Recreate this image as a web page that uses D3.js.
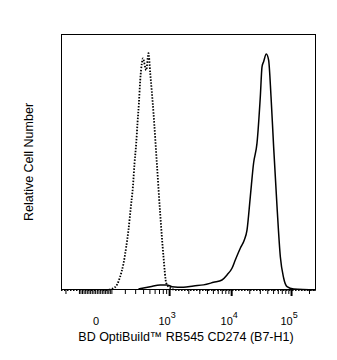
<!DOCTYPE html>
<html>
<head>
<meta charset="utf-8">
<script src="https://cdn.jsdelivr.net/npm/d3@7"></script>
<style>
  html, body { margin: 0; padding: 0; background: #fff; }
  svg { display: block; font-family: "Liberation Sans", Arial, sans-serif; }
</style>
</head>
<body>
<svg id="chart" width="337" height="360"></svg>
<script>
// Fluorescence intensity (logicle-scaled axis) and relative cell counts (% of max)
const isoIntensity = [-240, 60, 114, 138, 162, 189, 212, 232, 255, 276, 293, 312, 327, 344, 361, 383, 397, 447, 484, 514, 577, 650, 730, 820, 903, 1040, 1300, 262144];
const isoCount     = [0, 0, 0.7, 2.0, 5.2, 10.4, 16.9, 23.4, 32.5, 40.4, 49.5, 57.3, 65.1, 72.9, 82.0, 88.6, 90.5, 85.9, 92.5, 84.8, 69.1, 49.2, 29.7, 12.9, 2.7, 0.8, 0, 0];

const stainIntensity = [339, 514, 730, 925, 1106, 1681, 2426, 3520, 5126, 7048, 8526, 10317, 11703, 14172, 16528, 18329, 20803, 23620, 26918, 30571, 32644, 34722, 38515, 42096, 46190, 51049, 58226, 66126, 75103, 85671, 110550, 262144];
const stainCount     = [0.4, 1.3, 2.0, 2.0, 1.3, 1.1, 1.6, 2.0, 3.0, 3.9, 5.9, 8.5, 11.7, 16.3, 19.5, 23.4, 36.4, 49.6, 57.4, 75.5, 87.2, 89.2, 92.2, 89.8, 75.5, 56.0, 32.5, 13.0, 4.7, 1.3, 0.4, 0];

const majorTicks = [1e3, 1e4, 1e5];
const minorTicks = [-200, -100, -90, -80, -70, -60, -50, -40, -30, -20, -10, 0,
  10, 20, 30, 40, 50, 60, 70, 80, 90, 100, 200, 300, 400, 500, 600, 700, 800, 900,
  2000, 3000, 4000, 5000, 6000, 7000, 8000, 9000,
  20000, 30000, 40000, 50000, 60000, 70000, 80000, 90000, 200000];
const tickLabels = [
  { value: 0, base: "0", exp: "" },
  { value: 1e3, base: "10", exp: "3" },
  { value: 1e4, base: "10", exp: "4" },
  { value: 1e5, base: "10", exp: "5" }
];
const xTitle = "BD OptiBuild\u2122 RB545 CD274 (B7-H1)";
const yTitle = "Relative Cell Number";

// Biexponential display transform: intensity -> display decades
const A = 51.3, P = 2;
function fromDecades(u) {
  const s = Math.sign(u), a = Math.abs(u);
  return s * A * (Math.pow(10, a) - P * P * Math.pow(10, -a / P) + P * P - 1);
}
function toDecades(v) {
  let lo = -6, hi = 6;
  for (let i = 0; i < 80; i++) {
    const mid = (lo + hi) / 2;
    if (fromDecades(mid) < v) lo = mid; else hi = mid;
  }
  return (lo + hi) / 2;
}

const margin = { left: 61, right: 21, top: 34, bottom: 70 };
const W = 337, H = 360;
const svg = d3.select("#chart");

const x = d3.scaleLinear()
  .domain([toDecades(-240), toDecades(262144)])
  .range([margin.left, W - margin.right]);
const y = d3.scaleLinear().domain([0, 100]).range([H - margin.bottom, margin.top]);

const line = d3.line()
  .x(d => x(toDecades(d[0])))
  .y(d => y(d[1]))
  .curve(d3.curveMonotoneX);

const plot = svg.append("g");

// control (dotted) histogram
plot.append("path")
  .datum(d3.zip(isoIntensity, isoCount))
  .attr("d", line)
  .attr("fill", "none")
  .attr("stroke", "#000")
  .attr("stroke-width", 1.8)
  .attr("stroke-dasharray", "1.5,1.5");

// stained (solid) histogram
plot.append("path")
  .datum(d3.zip(stainIntensity, stainCount))
  .attr("d", line)
  .attr("fill", "none")
  .attr("stroke", "#000")
  .attr("stroke-width", 1.5)
  .attr("stroke-linejoin", "round");

// frame
svg.append("rect")
  .attr("x", margin.left + 0.5)
  .attr("y", margin.top + 0.5)
  .attr("width", W - margin.left - margin.right - 1)
  .attr("height", H - margin.top - margin.bottom - 1)
  .attr("fill", "none")
  .attr("stroke", "#000")
  .attr("stroke-width", 1);

// axis ticks
const axisY = H - margin.bottom;
svg.append("g")
  .attr("transform", `translate(0,${axisY})`)
  .call(d3.axisBottom(x).tickValues(minorTicks.map(toDecades)).tickSize(4).tickFormat(""))
  .call(g => g.select(".domain").remove())
  .call(g => g.selectAll("line").attr("stroke", "#000").attr("stroke-width", 1));

svg.append("g")
  .attr("transform", `translate(0,${axisY})`)
  .call(d3.axisBottom(x).tickValues(majorTicks.map(toDecades)).tickSize(6).tickFormat(""))
  .call(g => g.select(".domain").remove())
  .call(g => g.selectAll("line").attr("stroke", "#000").attr("stroke-width", 2));

// tick labels with superscript exponents
const labels = svg.append("g").attr("font-size", 11).attr("fill", "#000");
tickLabels.forEach(t => {
  const cx = x(toDecades(t.value));
  const txt = labels.append("text")
    .attr("x", cx + (t.exp ? -2 : 1))
    .attr("y", 325)
    .attr("text-anchor", "middle");
  txt.append("tspan").text(t.base);
  if (t.exp) {
    txt.append("tspan").attr("dy", -7).attr("font-size", 9).text(t.exp);
  }
});

// axis titles
svg.append("text")
  .attr("x", 186)
  .attr("y", 341)
  .attr("text-anchor", "middle")
  .attr("font-size", 12.5)
  .text(xTitle);

svg.append("text")
  .attr("transform", `translate(33,${162}) rotate(-90)`)
  .attr("text-anchor", "middle")
  .attr("font-size", 12.5)
  .text(yTitle);
</script>
</body>
</html>
